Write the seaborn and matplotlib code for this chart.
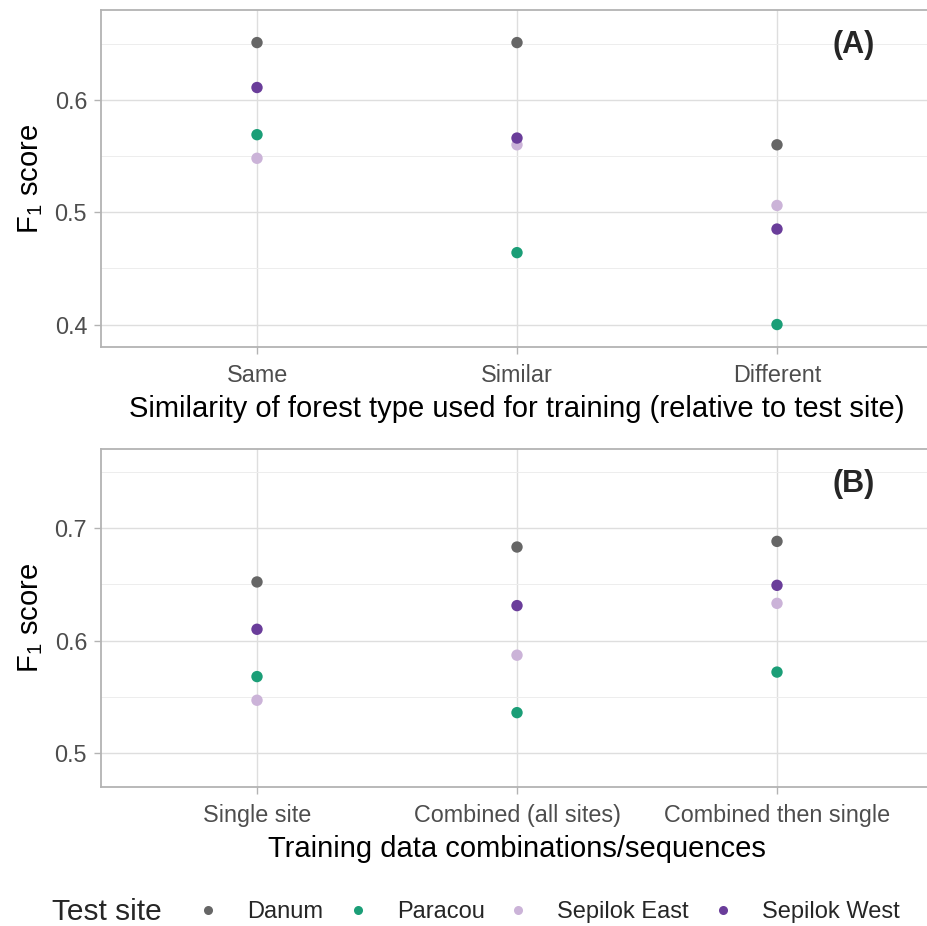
import matplotlib
matplotlib.use("Agg")
import matplotlib.pyplot as plt
from matplotlib.lines import Line2D
import seaborn as sns
import pandas as pd

# Test sites and their colours
sites = ["Danum", "Paracou", "Sepilok East", "Sepilok West"]
site_colors = ["#666666", "#1B9E77", "#CBB3D8", "#6A3D9A"]

# Panel A: similarity of training forest type
similarity = ["Same", "Similar", "Different"]
a_danum = [0.651, 0.651, 0.560]
a_paracou = [0.569, 0.464, 0.400]
a_sep_east = [0.548, 0.560, 0.506]
a_sep_west = [0.611, 0.566, 0.485]

# Panel B: training data combinations/sequences
combos = ["Single site", "Combined (all sites)", "Combined then single"]
b_danum = [0.652, 0.683, 0.688]
b_paracou = [0.568, 0.536, 0.572]
b_sep_east = [0.547, 0.587, 0.633]
b_sep_west = [0.610, 0.631, 0.649]

a_ticks = [0.4, 0.5, 0.6]
b_ticks = [0.5, 0.6, 0.7]


def long_table(cats, *series):
    rows = []
    for site, vals in zip(sites, series):
        for c, v in zip(cats, vals):
            rows.append({"cat": c, "site": site, "f1": v})
    return pd.DataFrame(rows)


df_a = long_table(similarity, a_danum, a_paracou, a_sep_east, a_sep_west)
df_b = long_table(combos, b_danum, b_paracou, b_sep_east, b_sep_west)

sns.set_theme(style="white")
plt.rcParams["font.family"] = ["Liberation Sans", "DejaVu Sans"]
plt.rcParams["mathtext.fontset"] = "custom"
plt.rcParams["mathtext.rm"] = "Liberation Sans"
plt.rcParams["mathtext.it"] = "Liberation Sans:italic"
plt.rcParams["mathtext.bf"] = "Liberation Sans:bold"

W, H = 928, 926
fig = plt.figure(figsize=(W / 100, H / 100), dpi=100)

palette = dict(zip(sites, site_colors))
border = "#B3B3B3"
major = "#DEDEDE"
minor = "#EDEDED"


def style_panel(ax, data, cats, ticks, ylim, xlabel, tag):
    sns.stripplot(data=data, x="cat", y="f1", hue="site", order=cats,
                  hue_order=sites, palette=palette, jitter=False, dodge=False,
                  size=8.2, linewidth=0, ax=ax, legend=False, zorder=3)
    ax.set_xlim(-0.6, 2.6)
    ax.set_ylim(*ylim)
    ax.set_yticks(ticks)
    ax.set_yticklabels([f"{t:.1f}" for t in ticks])
    minors = [t + 0.05 for t in ticks] + [ticks[0] - 0.05]
    ax.set_yticks([m for m in minors if ylim[0] < m < ylim[1]], minor=True)
    ax.grid(True, which="major", axis="both", color=major, linewidth=1.0, zorder=0)
    ax.grid(True, which="minor", axis="y", color=minor, linewidth=0.7, zorder=0)
    ax.set_axisbelow(True)
    for s in ax.spines.values():
        s.set_visible(True)
        s.set_color(border)
        s.set_linewidth(1.3)
    ax.tick_params(axis="both", which="major", labelsize=16.8, labelcolor="#4D4D4D",
                   color=border, length=5, width=1, left=True, bottom=True)
    ax.tick_params(axis="x", which="major", pad=7)
    ax.tick_params(axis="y", which="major", pad=5)
    ax.tick_params(axis="y", which="minor", length=0)
    ax.set_xlabel(xlabel, fontsize=21, color="black", labelpad=6)
    ax.set_ylabel(r"F$_\mathrm{1}$ score", fontsize=21, color="black", labelpad=7)
    ax.text(0.904, 0.896, tag, transform=ax.transAxes, fontsize=22,
            fontweight="bold", ha="center", va="center")


# axes geometry in pixels: left edge, category spacing 260 px
left = 101
width = 3.2 * 260
ax_a = fig.add_axes([left / W, 1 - 347 / H, width / W, (347 - 10) / H])
style_panel(ax_a, df_a, similarity, a_ticks, (0.380, 0.680),
            "Similarity of forest type used for training (relative to test site)", "(A)")

ax_b = fig.add_axes([left / W, 1 - 787 / H, width / W, (787 - 449) / H])
style_panel(ax_b, df_b, combos, b_ticks, (0.470, 0.770),
            "Training data combinations/sequences", "(B)")

# legend along the bottom: title, then one key per test site
legend_y = 1 - 912 / H
fig.text(52 / W, legend_y, "Test site", fontsize=21.5, ha="left", va="center")
key_x = [196, 346, 506, 711]
for s, c, kx in zip(sites, site_colors, key_x):
    h = Line2D([], [], marker="o", linestyle="", markersize=6.5,
               markerfacecolor=c, markeredgewidth=0, label=s)
    fig.legend(handles=[h], loc="center left", bbox_to_anchor=(kx / W, legend_y),
               frameon=False, fontsize=17, handlelength=1.0, handletextpad=1.15,
               borderpad=0, borderaxespad=0)

fig.savefig("out.png", dpi=100, facecolor="white")
